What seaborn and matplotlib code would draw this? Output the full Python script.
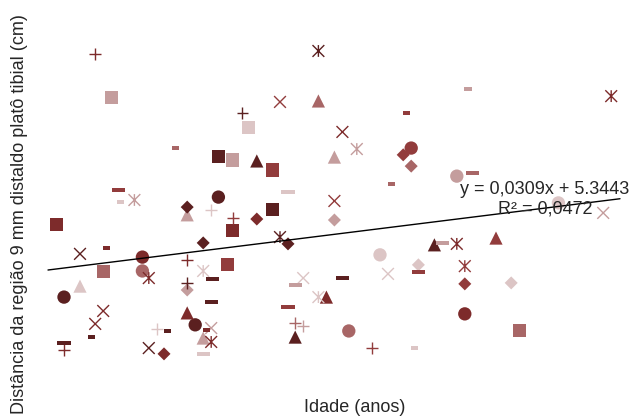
import matplotlib
matplotlib.use("Agg")
import matplotlib.pyplot as plt
from matplotlib.path import Path
import numpy as np
import pandas as pd
import seaborn as sns

# Idade (anos) x distância (cm), one group per marker symbol
quadrado_idade = [13.9, 27.3, 29.1, 31.1, 34.1, 34.1, 29.1, 7.1, 12.9, 28.4, 64.9]
quadrado_dist = [10.89, 9.06, 8.94, 9.96, 8.63, 7.42, 6.74, 6.93, 5.47, 5.69, 3.64]
quadrado_tom = ['c5', 'c1', 'c5', 'c6', 'c3', 'c1', 'c2', 'c2', 'c4', 'c3', 'c4']

circulo_idade = [27.3, 51.4, 57.1, 69.8, 17.8, 17.8, 8.0, 24.4, 47.5, 43.6, 58.1]
circulo_dist = [7.79, 9.31, 8.44, 7.61, 5.93, 5.50, 4.69, 3.83, 6.00, 3.64, 4.17]
circulo_tom = ['c1', 'c3', 'c5', 'c6', 'c2', 'c4', 'c1', 'c1', 'c6', 'c4', 'c2']

triangulo_idade = [39.8, 41.8, 32.1, 23.4, 10.0, 23.4, 25.4, 54.3, 62.0, 40.8, 36.9]
triangulo_dist = [10.77, 9.03, 8.91, 7.24, 5.03, 4.20, 3.42, 6.31, 6.52, 4.69, 3.45]
triangulo_tom = ['c4', 'c5', 'c1', 'c5', 'c6', 'c2', 'c5', 'c1', 'c3', 'c2', 'c1']

losango_idade = [50.4, 51.4, 23.4, 32.1, 41.8, 25.4, 36.0, 52.3, 23.4, 20.5, 58.1, 63.9]
losango_dist = [9.10, 8.75, 7.48, 7.11, 7.08, 6.37, 6.34, 5.69, 4.91, 2.93, 5.10, 5.13]
losango_tom = ['c3', 'c4', 'c1', 'c2', 'c5', 'c1', 'c1', 'c6', 'c5', 'c2', 'c3', 'c6']

xis_idade = [35.0, 42.8, 41.8, 10.0, 37.9, 48.5, 12.9, 11.9, 26.4, 18.6, 75.4]
xis_dist = [10.74, 9.81, 7.67, 6.03, 5.28, 5.41, 4.26, 3.86, 3.73, 3.11, 7.30]
xis_tom = ['c3', 'c2', 'c3', 'c1', 'c6', 'c6', 'c2', 'c2', 'c5', 'c1', 'c5']

mais_idade = [11.9, 30.3, 26.4, 29.1, 23.4, 23.4, 19.6, 8.0, 36.9, 37.9, 46.5]
mais_dist = [12.23, 10.40, 7.39, 7.14, 5.84, 5.13, 3.70, 3.05, 3.89, 3.79, 3.11]
mais_tom = ['c2', 'c1', 'c6', 'c3', 'c2', 'c1', 'c6', 'c2', 'c4', 'c5', 'c3']

asterisco_idade = [39.8, 76.4, 44.6, 16.8, 35.0, 18.6, 25.4, 39.8, 26.4, 57.1, 58.1]
asterisco_dist = [12.32, 10.92, 9.28, 7.70, 6.55, 5.28, 5.50, 4.69, 3.30, 6.34, 5.65]
asterisco_tom = ['c1', 'c2', 'c5', 'c5', 'c1', 'c2', 'c6', 'c6', 'c2', 'c2', 'c3']

traco_idade = [14.8, 36.0, 59.1, 26.6, 26.4, 8.0, 25.4, 42.8, 36.9, 36.0, 52.3, 55.3]
traco_dist = [8.01, 7.95, 8.54, 5.25, 4.54, 3.27, 2.93, 5.28, 5.07, 4.38, 5.47, 6.37]
traco_tom = ['c3', 'c6', 'c4', 'c1', 'c1', 'c1', 'c6', 'c1', 'c5', 'c3', 'c3', 'c5']

traco_curto_idade = [21.9, 15.1, 50.8, 48.9, 58.5, 13.3, 11.4, 20.9, 51.8, 25.8]
traco_curto_dist = [9.31, 7.64, 10.40, 8.20, 11.14, 6.21, 3.45, 3.64, 3.11, 3.67]
traco_curto_tom = ['c4', 'c6', 'c3', 'c4', 'c5', 'c2', 'c1', 'c1', 'c6', 'c2']

# linear trendline from the chart
tendencia_a = 0.0309
tendencia_b = 5.3443
tendencia_x = [6.0, 77.5]

cores = {'c1': '#5b2020', 'c2': '#7d2b2b', 'c3': '#923c3c',
         'c4': '#a86666', 'c5': '#c49d9d', 'c6': '#dcc5c5'}

# custom marker paths
asterisco = Path([(-1, -1), (1, 1), (-1, 1), (1, -1), (0, -1), (0, 1)],
                 [Path.MOVETO, Path.LINETO, Path.MOVETO, Path.LINETO, Path.MOVETO, Path.LINETO])
traco = [(-1, -0.3), (1, -0.3), (1, 0.3), (-1, 0.3)]
traco_curto = [(-1, -0.5), (1, -0.5), (1, 0.5), (-1, 0.5)]

grupos = [
    (quadrado_idade, quadrado_dist, quadrado_tom, 's', 88, True),
    (circulo_idade, circulo_dist, circulo_tom, 'o', 92, True),
    (triangulo_idade, triangulo_dist, triangulo_tom, '^', 90, True),
    (losango_idade, losango_dist, losango_tom, 'D', 44, True),
    (xis_idade, xis_dist, xis_tom, 'x', 72, False),
    (mais_idade, mais_dist, mais_tom, '+', 72, False),
    (asterisco_idade, asterisco_dist, asterisco_tom, asterisco, 72, False),
    (traco_idade, traco_dist, traco_tom, traco, 88, True),
    (traco_curto_idade, traco_curto_dist, traco_curto_tom, traco_curto, 26, True),
]

sns.set_style('white')
plt.rcParams['font.family'] = ['Liberation Sans', 'DejaVu Sans']

fig = plt.figure(figsize=(6.35, 4.2), dpi=100)
ax = fig.add_axes([40 / 635, 30 / 420, 590 / 635, 370 / 420])

for idade, dist, tom, marcador, tamanho, cheio in grupos:
    df = pd.DataFrame({'idade': idade, 'distancia': dist, 'tom': tom})
    if cheio:
        sns.scatterplot(data=df, x='idade', y='distancia', hue='tom', palette=cores,
                        marker=marcador, s=tamanho, linewidth=0, legend=False, ax=ax)
    else:
        sns.scatterplot(data=df, x='idade', y='distancia', hue='tom', palette=cores,
                        marker=marcador, s=tamanho, linewidth=1.0, edgecolor='face',
                        legend=False, ax=ax)

tx = np.array(tendencia_x)
ax.plot(tx, tendencia_a * tx + tendencia_b, color='black', lw=1.0)

ax.text(0.856, 0.516, 'y = 0,0309x + 5.3443\nR² = 0,0472', transform=ax.transAxes,
        ha='center', va='center', multialignment='center', fontsize=13)

ax.set_xlim(5, 78.75)
ax.set_ylim(1.81, 13.28)
ax.set_xticks([])
ax.set_yticks([])
sns.despine(ax=ax, left=True, bottom=True)

ax.set_xlabel('Idade (anos)', fontsize=13)
ax.set_ylabel('Distância da região 9 mm distaldo platô tibial (cm)', fontsize=13)
ax.xaxis.set_label_coords(0.534, -0.025)
ax.yaxis.set_label_coords(-0.020, 0.476)

fig.savefig('out.png', dpi=100)
